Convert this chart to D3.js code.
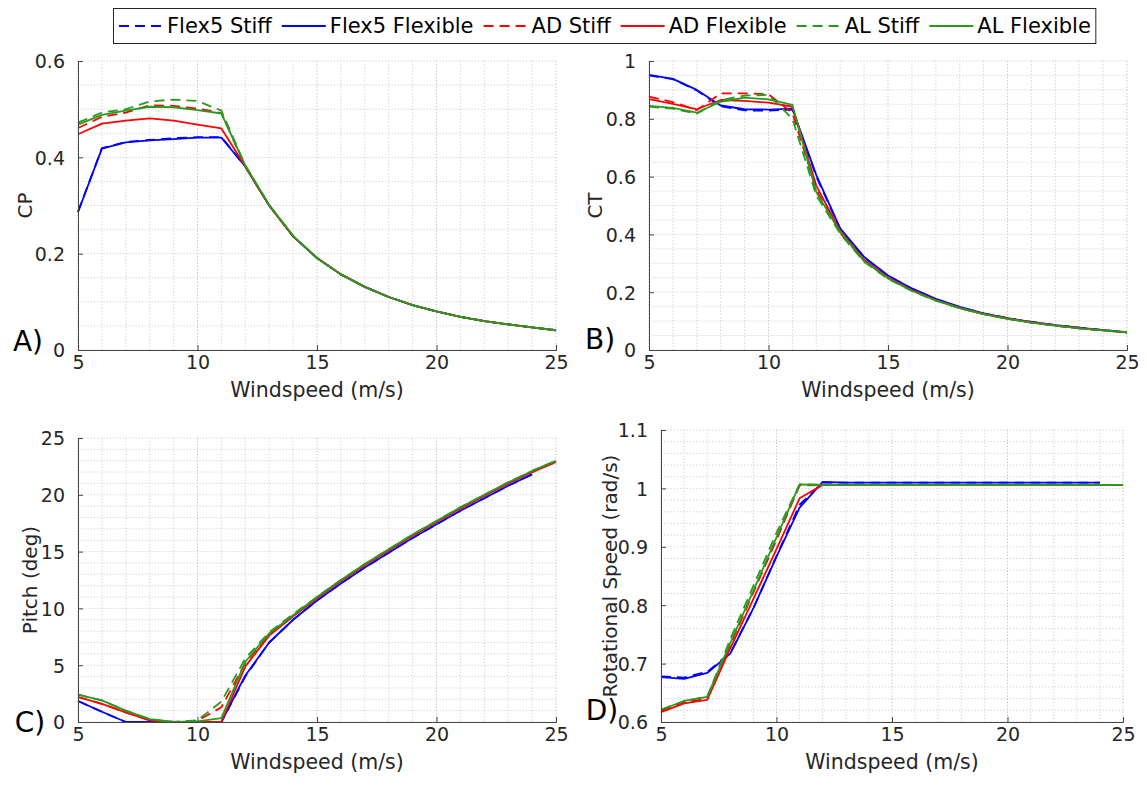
<!DOCTYPE html>
<html>
<head>
<meta charset="utf-8">
<script src="https://cdn.jsdelivr.net/npm/d3@7"></script>
<style>
    body { margin: 0; background: #fff; }
    svg { font-family: "DejaVu Sans", sans-serif; }
</style>
</head>
<body>
<svg id="chart" width="1147" height="791"></svg>
<script>
// Wind turbine comparison: Flex5 / AD / AL, stiff vs flexible blades
const windspeed = [5, 6, 7, 8, 9, 10, 11, 12, 13, 14, 15, 16, 17, 18, 19, 20, 21, 22, 23, 24, 25];

const seriesNames = ["Flex5 Stiff", "Flex5 Flexible", "AD Stiff", "AD Flexible", "AL Stiff", "AL Flexible"];
const seriesColors = ["#0000ff", "#0000ff", "#ff0000", "#ff0000", "#2a9a1e", "#2a9a1e"];
const seriesDashed = [true, false, true, false, true, false];

// A) power coefficient
const cpFlex5Stiff = [0.287, 0.419, 0.432, 0.436, 0.440, 0.442, 0.442, 0.381, 0.300, 0.236, 0.191, 0.157, 0.131, 0.110, 0.093, 0.080, 0.069, 0.060, 0.053, 0.047, 0.041];
const cpFlex5Flex  = [0.286, 0.418, 0.431, 0.435, 0.438, 0.441, 0.441, 0.381, 0.300, 0.236, 0.191, 0.157, 0.131, 0.110, 0.093, 0.080, 0.069, 0.060, 0.053, 0.047, 0.041];
const cpADStiff    = [0.461, 0.484, 0.493, 0.508, 0.507, 0.501, 0.492, 0.381, 0.300, 0.236, 0.191, 0.157, 0.131, 0.110, 0.093, 0.080, 0.069, 0.060, 0.053, 0.047, 0.041];
const cpADFlex     = [0.448, 0.470, 0.476, 0.481, 0.476, 0.468, 0.460, 0.381, 0.300, 0.236, 0.191, 0.157, 0.131, 0.110, 0.093, 0.080, 0.069, 0.060, 0.053, 0.047, 0.041];
const cpALStiff    = [0.472, 0.493, 0.500, 0.516, 0.520, 0.517, 0.497, 0.383, 0.301, 0.237, 0.191, 0.157, 0.131, 0.110, 0.093, 0.080, 0.069, 0.060, 0.053, 0.047, 0.041];
const cpALFlex     = [0.468, 0.488, 0.497, 0.505, 0.504, 0.498, 0.491, 0.383, 0.301, 0.237, 0.191, 0.157, 0.131, 0.110, 0.093, 0.080, 0.069, 0.060, 0.053, 0.047, 0.041];

// B) thrust coefficient
const ctFlex5Stiff = [0.950, 0.937, 0.898, 0.843, 0.829, 0.828, 0.832, 0.600, 0.418, 0.320, 0.257, 0.212, 0.176, 0.148, 0.127, 0.110, 0.097, 0.086, 0.077, 0.069, 0.062];
const ctFlex5Flex  = [0.952, 0.938, 0.900, 0.846, 0.833, 0.832, 0.835, 0.605, 0.421, 0.322, 0.258, 0.213, 0.177, 0.149, 0.127, 0.110, 0.097, 0.086, 0.077, 0.069, 0.062];
const ctADStiff    = [0.877, 0.858, 0.830, 0.888, 0.888, 0.885, 0.820, 0.555, 0.405, 0.309, 0.249, 0.206, 0.172, 0.145, 0.124, 0.108, 0.095, 0.084, 0.075, 0.068, 0.061];
const ctADFlex     = [0.868, 0.852, 0.833, 0.865, 0.862, 0.856, 0.842, 0.568, 0.412, 0.312, 0.251, 0.207, 0.173, 0.146, 0.125, 0.109, 0.096, 0.085, 0.076, 0.068, 0.061];
const ctALStiff    = [0.842, 0.835, 0.818, 0.865, 0.880, 0.883, 0.800, 0.535, 0.402, 0.305, 0.246, 0.204, 0.171, 0.144, 0.124, 0.108, 0.095, 0.084, 0.075, 0.068, 0.061];
const ctALFlex     = [0.845, 0.838, 0.821, 0.859, 0.873, 0.867, 0.848, 0.547, 0.408, 0.308, 0.248, 0.205, 0.172, 0.145, 0.124, 0.108, 0.095, 0.084, 0.075, 0.068, 0.061];

// C) pitch angle (deg)
const pitchFlex5Stiff = [1.85, 0.9, 0, 0, 0, 0, 0, 4.0, 7.0, 9.0, 10.7, 12.2, 13.6, 14.9, 16.2, 17.4, 18.6, 19.7, 20.8, 21.8, null];
const pitchFlex5Flex  = [1.85, 0.9, 0, 0, 0, 0, 0, 4.1, 7.0, 9.0, 10.7, 12.2, 13.6, 14.9, 16.2, 17.4, 18.6, 19.7, 20.8, 21.8, null];
const pitchADStiff    = [2.2, 1.6, 0.85, 0.15, 0, 0.1, 1.3, 5.2, 7.7, 9.3, 10.9, 12.4, 13.8, 15.1, 16.4, 17.6, 18.8, 19.9, 21.0, 22.0, 22.9];
const pitchADFlex     = [2.2, 1.6, 0.85, 0.15, 0, 0, 0, 4.9, 7.6, 9.3, 10.9, 12.4, 13.8, 15.1, 16.4, 17.6, 18.8, 19.9, 21.0, 22.0, 22.9];
const pitchALStiff    = [2.4, 1.9, 1.0, 0.25, 0, 0.15, 1.8, 5.6, 7.9, 9.5, 11.0, 12.5, 13.9, 15.2, 16.5, 17.7, 18.9, 20.0, 21.1, 22.1, 23.0];
const pitchALFlex     = [2.4, 1.9, 1.0, 0.25, 0, 0.05, 0.35, 5.3, 7.8, 9.4, 11.0, 12.5, 13.9, 15.2, 16.5, 17.7, 18.9, 20.0, 21.1, 22.1, 23.0];

// D) rotor speed (rad/s)
const omegaFlex5Stiff = [0.678, 0.676, 0.686, 0.718, 0.795, 0.884, 0.972, 1.010, 1.010, 1.010, 1.010, 1.010, 1.010, 1.010, 1.010, 1.010, 1.010, 1.010, 1.010, 1.010, null];
const omegaFlex5Flex  = [0.677, 0.674, 0.684, 0.717, 0.795, 0.883, 0.967, 1.011, 1.010, 1.010, 1.010, 1.010, 1.010, 1.010, 1.010, 1.010, 1.010, 1.010, 1.010, 1.010, null];
const omegaADStiff    = [0.619, 0.634, 0.640, 0.732, 0.822, 0.912, 1.005, 1.006, 1.006, 1.006, 1.006, 1.006, 1.006, 1.006, 1.006, 1.006, 1.006, 1.006, 1.006, 1.006, 1.006];
const omegaADFlex     = [0.617, 0.632, 0.638, 0.726, 0.811, 0.896, 0.983, 1.006, 1.006, 1.006, 1.006, 1.006, 1.006, 1.006, 1.006, 1.006, 1.006, 1.006, 1.006, 1.006, 1.006];
const omegaALStiff    = [0.621, 0.636, 0.643, 0.742, 0.833, 0.924, 1.007, 1.006, 1.006, 1.006, 1.006, 1.006, 1.006, 1.006, 1.006, 1.006, 1.006, 1.006, 1.006, 1.006, 1.006];
const omegaALFlex     = [0.621, 0.636, 0.643, 0.735, 0.825, 0.916, 1.007, 1.006, 1.006, 1.006, 1.006, 1.006, 1.006, 1.006, 1.006, 1.006, 1.006, 1.006, 1.006, 1.006, 1.006];

const xTicks = [5, 10, 15, 20, 25];

const panels = [
    {letter: "A)", ylabel: "CP", series: [cpFlex5Stiff, cpFlex5Flex, cpADStiff, cpADFlex, cpALStiff, cpALFlex],
     yDomain: [0, 0.6], yTicks: [0, 0.2, 0.4, 0.6], yGrid: 0.05,
     box: {left: 78, right: 556, top: 61, bottom: 350}, ylabelX: 32, letterPos: [28, 341]},
    {letter: "B)", ylabel: "CT", series: [ctFlex5Stiff, ctFlex5Flex, ctADStiff, ctADFlex, ctALStiff, ctALFlex],
     yDomain: [0, 1], yTicks: [0, 0.2, 0.4, 0.6, 0.8, 1], yGrid: 0.05,
     box: {left: 649, right: 1127, top: 61, bottom: 350}, ylabelX: 602, letterPos: [600, 339]},
    {letter: "C)", ylabel: "Pitch (deg)", series: [pitchFlex5Stiff, pitchFlex5Flex, pitchADStiff, pitchADFlex, pitchALStiff, pitchALFlex],
     yDomain: [0, 25], yTicks: [0, 5, 10, 15, 20, 25], yGrid: 1,
     box: {left: 78, right: 556, top: 438, bottom: 722}, ylabelX: 37, letterPos: [30, 722]},
    {letter: "D)", ylabel: "Rotational Speed (rad/s)", series: [omegaFlex5Stiff, omegaFlex5Flex, omegaADStiff, omegaADFlex, omegaALStiff, omegaALFlex],
     yDomain: [0.6, 1.1], yTicks: [0.6, 0.7, 0.8, 0.9, 1, 1.1], yGrid: 0.02,
     box: {left: 661, right: 1123, top: 430, bottom: 722}, ylabelX: 617, letterPos: [602, 710]}
];

const svg = d3.select("#chart");
const axisColor = "#444";
const textColor = "#262626";
const fmt = d => String(+d.toFixed(2));

panels.forEach(p => {
    const b = p.box;
    const x = d3.scaleLinear().domain([5, 25]).range([b.left, b.right]);
    const y = d3.scaleLinear().domain(p.yDomain).range([b.bottom, b.top]);
    const g = svg.append("g");

    // dotted grid (every 1 m/s in x, minor step in y)
    const xGrid = d3.range(5, 25.001, 1);
    const yGrid = d3.range(p.yDomain[0], p.yDomain[1] + p.yGrid / 2, p.yGrid);
    g.selectAll(".gx").data(xGrid).enter().append("line")
        .attr("x1", d => x(d)).attr("x2", d => x(d))
        .attr("y1", b.top).attr("y2", b.bottom)
        .attr("stroke", d => xTicks.includes(d) ? "#bdbdbd" : "#cfcfcf")
        .attr("stroke-width", 1)
        .attr("stroke-dasharray", "1.2,2");
    g.selectAll(".gy").data(yGrid).enter().append("line")
        .attr("x1", b.left).attr("x2", b.right)
        .attr("y1", d => y(d)).attr("y2", d => y(d))
        .attr("stroke", "#cfcfcf")
        .attr("stroke-width", 1)
        .attr("stroke-dasharray", "1.2,2");

    // data lines
    p.series.forEach((vals, i) => {
        const pts = windspeed.map((w, k) => [w, vals[k]]);
        const line = d3.line()
            .defined(d => d[1] != null)
            .x(d => x(d[0]))
            .y(d => y(d[1]));
        g.append("path")
            .datum(pts)
            .attr("fill", "none")
            .attr("stroke", seriesColors[i])
            .attr("stroke-width", 1.8)
            .attr("stroke-linejoin", "round")
            .attr("stroke-dasharray", seriesDashed[i] ? "10,6" : null)
            .attr("d", line);
    });

    // axes (ticks inward, no box)
    const xAxis = g.append("g")
        .attr("transform", `translate(0,${b.bottom})`)
        .call(d3.axisBottom(x).tickValues(xTicks).tickSize(-5).tickPadding(5).tickFormat(fmt));
    const yAxis = g.append("g")
        .attr("transform", `translate(${b.left},0)`)
        .call(d3.axisLeft(y).tickValues(p.yTicks).tickSize(-5).tickPadding(13).tickFormat(fmt));
    [xAxis, yAxis].forEach(a => {
        a.select(".domain").attr("stroke", axisColor).attr("stroke-width", 1);
        a.selectAll(".tick line").attr("stroke", axisColor);
        a.selectAll("text")
            .attr("fill", textColor)
            .attr("font-size", "19px")
            .attr("font-family", "DejaVu Sans, sans-serif");
    });
    xAxis.selectAll("text").attr("dy", "0.76em");
    yAxis.selectAll("text").attr("dy", "0.36em");

    // labels
    g.append("text")
        .attr("x", (b.left + b.right) / 2)
        .attr("y", b.bottom + 47)
        .attr("text-anchor", "middle")
        .attr("font-size", "20.5px")
        .attr("fill", textColor)
        .text("Windspeed (m/s)");

    g.append("text")
        .attr("transform", `translate(${p.ylabelX},${(b.top + b.bottom) / 2}) rotate(-90)`)
        .attr("text-anchor", "middle")
        .attr("font-size", "20px")
        .attr("fill", textColor)
        .text(p.ylabel);

    g.append("text")
        .attr("x", p.letterPos[0])
        .attr("y", p.letterPos[1])
        .attr("text-anchor", "middle")
        .attr("dominant-baseline", "central")
        .attr("font-size", "28px")
        .attr("fill", "#000")
        .text(p.letter);
});

// shared legend along the top
const legend = svg.append("g");
const legendBox = legend.append("rect")
    .attr("fill", "#fff")
    .attr("stroke", "#262626")
    .attr("stroke-width", 1);
let lx = 119;
seriesNames.forEach((name, i) => {
    legend.append("line")
        .attr("x1", lx).attr("x2", lx + 44)
        .attr("y1", 26).attr("y2", 26)
        .attr("stroke", seriesColors[i])
        .attr("stroke-width", 1.8)
        .attr("stroke-dasharray", seriesDashed[i] ? "10,6" : null);
    const t = legend.append("text")
        .attr("x", lx + 48)
        .attr("y", 26)
        .attr("dominant-baseline", "central")
        .attr("font-size", "21px")
        .attr("fill", "#000")
        .text(name);
    lx = lx + 48 + t.node().getComputedTextLength() + 10;
});
legendBox
    .attr("x", 113.5).attr("y", 8.5)
    .attr("width", lx - 10 + 5 - 113.5)
    .attr("height", 35);
</script>
</body>
</html>
